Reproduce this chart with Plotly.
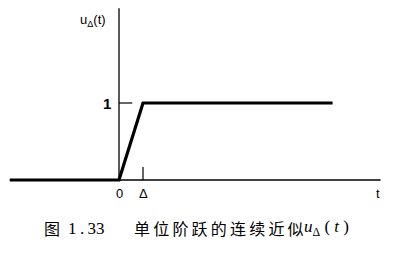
import plotly.graph_objects as go

# Data (t in units of Δ)
t_vals = [-4.55, 0.0, 1.0, 8.9]
u_vals = [0.0, 0.0, 1.0, 1.0]
x_ticks = [0.0, 1.0]
x_tick_labels = ["0", "Δ"]
y_ticks = [1.0]
y_tick_labels = ["1"]

W, H = 407, 256
px_x = 24.0   # pixels per unit t
px_y = 77.0   # pixels per unit u
x0_px, y0_px = 119.0, 180.0
xr = [-x0_px / px_x, (W - x0_px) / px_x]
yr = [-(H - y0_px) / px_y, y0_px / px_y]

fig = go.Figure()
# horizontal axis
fig.add_trace(go.Scatter(x=[-4.55, 10.9], y=[0, 0], mode="lines",
                         line=dict(color="black", width=1.3), hoverinfo="skip"))
# vertical axis
fig.add_trace(go.Scatter(x=[0, 0], y=[0, 2.23], mode="lines",
                         line=dict(color="black", width=1.3), hoverinfo="skip"))
# tick marks
fig.add_trace(go.Scatter(x=[0, 0.55], y=[y_ticks[0], y_ticks[0]], mode="lines",
                         line=dict(color="black", width=1.2), hoverinfo="skip"))
fig.add_trace(go.Scatter(x=[x_ticks[1], x_ticks[1]], y=[0, 0.17], mode="lines",
                         line=dict(color="black", width=1.2), hoverinfo="skip"))
# signal
fig.add_trace(go.Scatter(x=t_vals, y=u_vals, mode="lines",
                         line=dict(color="black", width=3.2), hoverinfo="skip"))

lab_font = dict(family="Liberation Sans, Arial, sans-serif", size=13, color="black")
anns = []
for xv, txt in zip(x_ticks, x_tick_labels):
    anns.append(dict(x=xv, y=-13 / px_y, xref="x", yref="y", text=txt,
                     showarrow=False, font=lab_font, xanchor="center", yanchor="middle"))
for yv, txt in zip(y_ticks, y_tick_labels):
    anns.append(dict(x=-12 / px_x, y=yv, xref="x", yref="y", text="<b>" + txt + "</b>",
                     showarrow=False, font=dict(family="Liberation Sans, Arial", size=15, color="black"),
                     xanchor="center", yanchor="middle"))
anns.append(dict(x=259 / px_x, y=-13 / px_y, xref="x", yref="y", text="t",
                 showarrow=False, font=lab_font, xanchor="center", yanchor="middle"))
anns.append(dict(x=-26 / px_x, y=160 / px_y, xref="x", yref="y",
                 text="u<sub>Δ</sub>(t)", showarrow=False, font=lab_font,
                 xanchor="center", yanchor="middle"))

cy = 1 - 228 / H
ts = "\u2009"
cap_font = dict(family="Noto Sans CJK SC, sans-serif", size=16, color="black")
serif = dict(family="Liberation Serif, serif", size=17, color="black")
anns.append(dict(x=42 / W, y=cy, xref="paper", yref="paper", text="图",
                 showarrow=False, font=cap_font, xanchor="left", yanchor="middle"))
anns.append(dict(x=66 / W, y=cy, xref="paper", yref="paper", text="1" + ts + "." + ts + "33",
                 showarrow=False, font=serif, xanchor="left", yanchor="middle"))
anns.append(dict(x=132 / W, y=cy, xref="paper", yref="paper",
                 text=ts.join("单位阶跃的连续近似"), showarrow=False, font=cap_font,
                 xanchor="left", yanchor="middle"))
anns.append(dict(x=302 / W, y=cy, xref="paper", yref="paper",
                 text="<i>u</i><sub>Δ</sub> ( <i>t</i> )", showarrow=False,
                 font=serif, xanchor="left", yanchor="middle"))

fig.update_layout(
    width=W, height=H, margin=dict(l=0, r=0, t=0, b=0),
    paper_bgcolor="white", plot_bgcolor="white", showlegend=False,
    xaxis=dict(range=xr, visible=False, fixedrange=True),
    yaxis=dict(range=yr, visible=False, fixedrange=True),
    annotations=anns,
)
fig.write_html("out.html")
